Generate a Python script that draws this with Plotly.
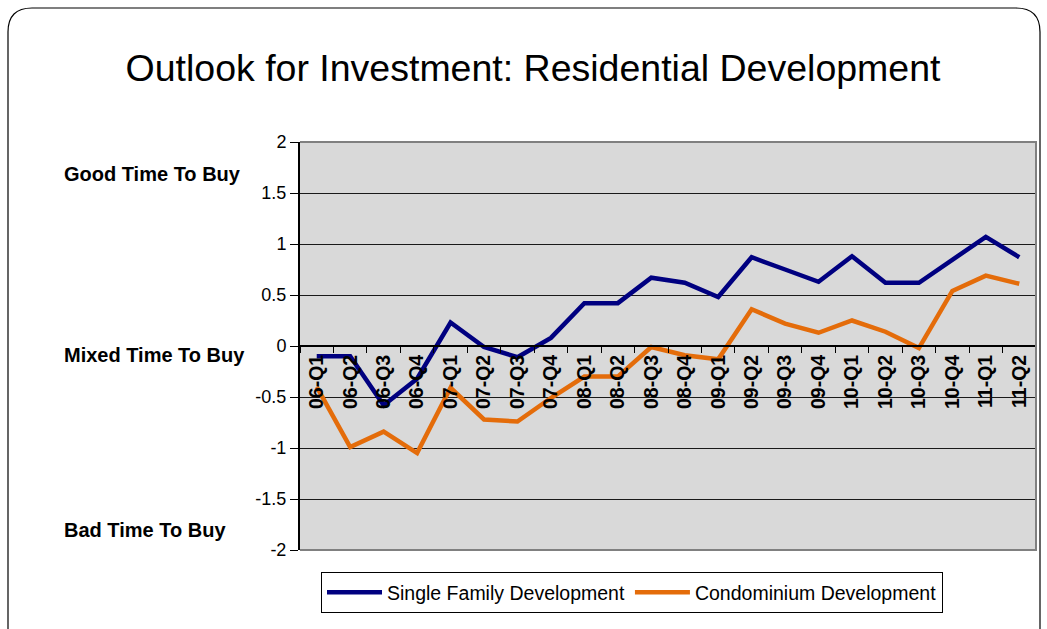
import plotly.graph_objects as go

categories = ["06-Q1", "06-Q2", "06-Q3", "06-Q4", "07-Q1", "07-Q2", "07-Q3", "07-Q4",
              "08-Q1", "08-Q2", "08-Q3", "08-Q4", "09-Q1", "09-Q2", "09-Q3", "09-Q4",
              "10-Q1", "10-Q2", "10-Q3", "10-Q4", "11-Q1", "11-Q2"]
single_family = [-0.10, -0.10, -0.58, -0.32, 0.23, -0.01, -0.11, 0.08,
                 0.42, 0.42, 0.67, 0.62, 0.48, 0.87, 0.75, 0.63,
                 0.88, 0.62, 0.62, 0.85, 1.07, 0.87]
condominium = [-0.40, -0.99, -0.84, -1.05, -0.41, -0.72, -0.74, -0.51,
               -0.30, -0.30, -0.01, -0.09, -0.13, 0.36, 0.22, 0.13,
               0.25, 0.14, -0.02, 0.54, 0.69, 0.61]
y_ticks = [2, 1.5, 1, 0.5, 0, -0.5, -1, -1.5, -2]
y_tick_text = ["2", "1.5", "1", "0.5", "0", "-0.5", "-1", "-1.5", "-2"]
zone_labels = ["Good Time To Buy", "Mixed Time To Buy", "Bad Time To Buy"]
zone_label_px_y = [174, 355, 530]

FONT = "Liberation Sans, Arial, sans-serif"
W, H = 1047, 629
L, R, T, B = 300, 11, 142, 79
pw, ph = W - L - R, H - T - B

def px(x):
    return (x - L) / pw

def py(y):
    return (H - B - y) / ph

fig = go.Figure()
fig.add_trace(go.Scatter(x=categories, y=single_family, mode="lines",
                         name="Single Family Development",
                         line=dict(color="#000080", width=4.5)))
fig.add_trace(go.Scatter(x=categories, y=condominium, mode="lines",
                         name="Condominium Development",
                         line=dict(color="#E46C0A", width=4.5)))

# outer rounded frame
r = 24
x0, x1, y0, y1 = 8, 1040, 8, 660
path = (f"M {px(x0)},{py(y1)} L {px(x0)},{py(y0 + r)} "
        f"Q {px(x0)},{py(y0)} {px(x0 + r)},{py(y0)} "
        f"L {px(x1 - r)},{py(y0)} Q {px(x1)},{py(y0)} {px(x1)},{py(y0 + r)} "
        f"L {px(x1)},{py(y1)}")
shapes = [
    dict(type="path", xref="paper", yref="paper", path=path,
         line=dict(color="#000000", width=1.2)),
    dict(type="path", xref="paper", yref="paper", path="M 0,1 L 1,1 L 1,0 L 0,0",
         line=dict(color="#808080", width=2), layer="above"),
]

annotations = []
for txt, yy in zip(zone_labels, zone_label_px_y):
    annotations.append(dict(text=txt, xref="paper", yref="paper", x=px(62), y=py(yy),
                            xanchor="left", yanchor="middle", showarrow=False,
                            font=dict(family=FONT, size=20, color="#000", weight="bold")))

fig.update_layout(
    width=W, height=H,
    margin=dict(l=L, r=R, t=T, b=B),
    paper_bgcolor="white",
    plot_bgcolor="#D9D9D9",
    font=dict(family=FONT, color="#000"),
    title=dict(text="Outlook for Investment: Residential Development",
               xref="container", yref="container",
               x=533 / W, xanchor="center", y=1 - 68 / H, yanchor="middle",
               font=dict(family=FONT, size=37.5, color="#000")),
    xaxis=dict(type="category", range=[-0.5, len(categories) - 0.5],
               anchor="free", position=0.5, showgrid=False, zeroline=False,
               showline=True, linecolor="#000", linewidth=2,
               ticks="outside", tickson="boundaries", ticklen=6, tickcolor="#000",
               tickangle=-90,
               tickfont=dict(family=FONT, size=19.5, color="#000", weight="bold")),
    yaxis=dict(range=[-2, 2], tickvals=y_ticks, ticktext=y_tick_text,
               showgrid=True, gridcolor="#1a1a1a", gridwidth=1,
               zeroline=True, zerolinecolor="#000", zerolinewidth=2,
               showline=True, linecolor="#000", linewidth=2,
               ticks="outside", ticklen=8, tickcolor="#000",
               tickfont=dict(family=FONT, size=18, color="#000")),
    legend=dict(orientation="h", x=px(321), xanchor="left", y=py(572), yanchor="top",
                bordercolor="#000", borderwidth=1, bgcolor="white",
                font=dict(family=FONT, size=19.5, color="#000"),
                itemwidth=55, tracegroupgap=0),
    shapes=shapes,
    annotations=annotations,
    showlegend=True,
)

fig.write_html("out.html",
               config={"displayModeBar": False},
               post_script="document.body.style.margin='0';document.body.style.overflow='hidden';")
